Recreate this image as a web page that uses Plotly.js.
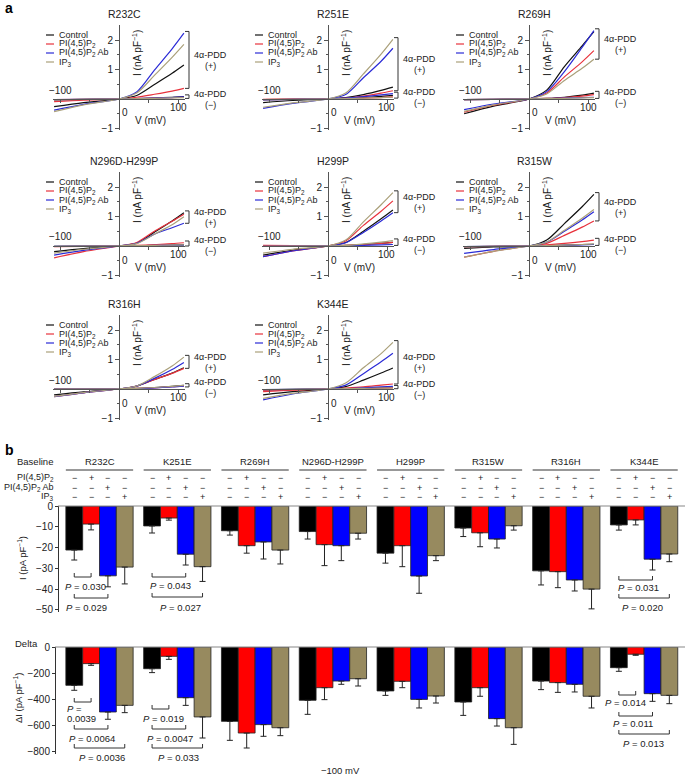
<!DOCTYPE html>
<html>
<head>
<meta charset="utf-8">
<script src="https://cdn.plot.ly/plotly-3.0.1.min.js"></script>
<style>
html, body { margin: 0; padding: 0; background: #fff; }
#chart { width: 685px; height: 779px; }
</style>
</head>
<body>
<div id="chart"></div>
<script>
var W = 685, H = 779;
var FONT = 'Liberation Sans, Arial, Helvetica, sans-serif';
var TXT = '#222';

// ---------- panel a : I-V ramps (nA/pF) ----------
var mutants = ['R232C', 'R251E', 'R269H', 'N296D-H299P', 'H299P', 'R315W', 'R316H', 'K344E'];
var volts = [-110, -60, 0, 30, 60, 90, 110];

// 4a-PDD (+)
var ctrlPlus = [
  [-0.26, -0.12, 0, 0.12, 0.49, 0.87, 1.15],
  [-0.12, -0.05, 0, 0.05, 0.15, 0.29, 0.40],
  [-0.50, -0.24, 0, 0.30, 1.10, 1.80, 2.28],
  [-0.19, -0.09, 0, 0.10, 0.47, 0.85, 1.13],
  [-0.31, -0.15, 0, 0.12, 0.50, 0.92, 1.22],
  [-0.08, -0.03, 0, 0.20, 0.76, 1.33, 1.75],
  [-0.20, -0.10, 0, 0.10, 0.32, 0.54, 0.72],
  [-0.20, -0.09, 0, 0.08, 0.30, 0.54, 0.71]
];
var pipPlus = [
  [-0.09, -0.04, 0, 0.06, 0.16, 0.27, 0.36],
  [-0.02, -0.01, 0, 0.03, 0.10, 0.20, 0.28],
  [-0.45, -0.21, 0, 0.20, 0.75, 1.26, 1.64],
  [-0.40, -0.19, 0, 0.12, 0.50, 0.84, 1.08],
  [-0.36, -0.17, 0, 0.17, 0.70, 1.18, 1.53],
  [-0.38, -0.18, 0, 0.09, 0.36, 0.64, 0.85],
  [-0.26, -0.13, 0, 0.10, 0.32, 0.53, 0.70],
  [-0.09, -0.04, 0, 0.03, 0.07, 0.13, 0.17]
];
var abPlus = [
  [-0.38, -0.18, 0, 0.24, 0.98, 1.70, 2.23],
  [-0.32, -0.15, 0, 0.15, 0.72, 1.28, 1.72],
  [-0.36, -0.17, 0, 0.25, 0.93, 1.75, 2.32],
  [-0.31, -0.15, 0, 0.09, 0.40, 0.62, 0.77],
  [-0.36, -0.17, 0, 0.11, 0.46, 0.85, 1.13],
  [-0.25, -0.12, 0, 0.13, 0.50, 0.88, 1.16],
  [-0.26, -0.13, 0, 0.10, 0.36, 0.66, 0.90],
  [-0.37, -0.17, 0, 0.13, 0.52, 0.92, 1.21]
];
var ip3Plus = [
  [-0.43, -0.20, 0, 0.20, 0.80, 1.41, 1.85],
  [-0.28, -0.13, 0, 0.20, 0.85, 1.52, 2.02],
  [-0.42, -0.20, 0, 0.17, 0.63, 1.04, 1.35],
  [-0.24, -0.11, 0, 0.08, 0.40, 0.72, 0.99],
  [-0.24, -0.11, 0, 0.20, 0.82, 1.40, 1.81],
  [-0.38, -0.18, 0, 0.13, 0.53, 0.94, 1.24],
  [-0.25, -0.12, 0, 0.10, 0.42, 0.78, 1.08],
  [-0.32, -0.15, 0, 0.20, 0.72, 1.20, 1.58]
];
// 4a-PDD (-)
var ctrlMinus = [
  [-0.03, -0.01, 0, 0.01, 0.03, 0.06, 0.08],
  [-0.02, -0.01, 0, 0.02, 0.05, 0.09, 0.12],
  [-0.02, -0.01, 0, 0.02, 0.06, 0.13, 0.20],
  [-0.01, 0, 0, 0.01, 0.02, 0.03, 0.04],
  [-0.01, 0, 0, 0.02, 0.05, 0.09, 0.12],
  [-0.02, -0.01, 0, 0.01, 0.03, 0.05, 0.06],
  [0, 0, 0, 0.02, 0.05, 0.09, 0.12],
  [-0.03, -0.01, 0, 0.01, 0.02, 0.04, 0.05]
];
var pipMinus = [
  [-0.02, -0.01, 0, 0.01, 0.03, 0.05, 0.06],
  [-0.01, 0, 0, 0.01, 0.03, 0.05, 0.07],
  [-0.02, -0.01, 0, 0.02, 0.05, 0.10, 0.15],
  [-0.02, -0.01, 0, 0.02, 0.05, 0.08, 0.11],
  [0.02, 0.01, 0, 0.02, 0.05, 0.09, 0.12],
  [-0.03, -0.01, 0, 0.04, 0.09, 0.15, 0.20],
  [0, 0, 0, 0.02, 0.04, 0.08, 0.10],
  [-0.05, -0.02, 0, 0.01, 0.02, 0.03, 0.04]
];
var abMinus = [
  [-0.02, -0.01, 0, 0.01, 0.03, 0.05, 0.07],
  [-0.03, -0.01, 0, 0.03, 0.08, 0.14, 0.18],
  [-0.02, -0.01, 0, 0.01, 0.03, 0.05, 0.06],
  [-0.01, 0, 0, 0.01, 0.02, 0.02, 0.03],
  [-0.01, 0, 0, 0.01, 0.02, 0.04, 0.05],
  [-0.02, -0.01, 0, 0.01, 0.02, 0.04, 0.05],
  [0, 0, 0, 0.01, 0.04, 0.07, 0.10],
  [-0.02, -0.01, 0, 0.01, 0.04, 0.07, 0.09]
];
var ip3Minus = [
  [-0.03, -0.01, 0, 0.01, 0.02, 0.04, 0.05],
  [-0.02, -0.01, 0, 0.01, 0.03, 0.05, 0.06],
  [-0.02, -0.01, 0, 0.01, 0.02, 0.04, 0.05],
  [-0.01, 0, 0, 0.01, 0.02, 0.03, 0.04],
  [-0.01, 0, 0, 0.02, 0.07, 0.13, 0.18],
  [-0.03, -0.01, 0, 0.01, 0.03, 0.05, 0.07],
  [0, 0, 0, 0.02, 0.05, 0.09, 0.12],
  [-0.02, -0.01, 0, 0.01, 0.02, 0.03, 0.04]
];

var treatNames = ['Control', 'PI(4,5)P<sub>2</sub>', 'PI(4,5)P<sub>2</sub> Ab', 'IP<sub>3</sub>'];
var lineColors = ['#111111', '#e8323c', '#2b2bd6', '#aaa07a'];

// ---------- panel b : -100 mV currents ----------
var groups = ['R232C', 'K251E', 'R269H', 'N296D-H299P', 'H299P', 'R315W', 'R316H', 'K344E'];
var baseCtrl = [-21.2, -9.6, -11.9, -12.3, -22.7, -10.6, -31.2, -9.1];
var basePip  = [-8.7, -5.8, -19.1, -18.6, -19.1, -12.9, -31.6, -6.7];
var baseAb   = [-33.6, -23.2, -17.3, -19.1, -33.7, -15.9, -35.6, -25.6];
var baseIp3  = [-29.4, -29.2, -21.2, -13.1, -23.9, -9.5, -40.0, -23.1];
var baseCtrlErr = [4.8, 3.4, 2.1, 3.6, 4.8, 4.1, 6.8, 2.5];
var basePipErr  = [2.8, 1.0, 3.6, 10.1, 10.1, 6.7, 7.7, 2.4];
var baseAbErr   = [5.3, 5.2, 8.2, 7.2, 8.3, 4.3, 5.3, 5.2];
var baseIp3Err  = [8.1, 7.1, 6.7, 2.8, 2.4, 2.1, 9.5, 3.7];
var deltaCtrl = [-295, -167, -572, -410, -338, -423, -262, -159];
var deltaPip  = [-128, -72, -662, -313, -264, -313, -274, -56];
var deltaAb   = [-500, -390, -597, -262, -403, -551, -287, -359];
var deltaIp3  = [-449, -538, -621, -244, -377, -621, -379, -372];
var deltaCtrlErr = [38, 30, 146, 108, 34, 103, 66, 28];
var deltaPipErr  = [13, 23, 115, 92, 49, 66, 75, 8];
var deltaAbErr   = [56, 59, 90, 25, 66, 57, 59, 59];
var deltaIp3Err  = [56, 162, 61, 56, 54, 128, 90, 64];
var barColors = ['#000000', '#ff0000', '#0000ff', '#978a5f'];
var signRows = [
  ['\u2212', '+', '\u2212', '\u2212'],
  ['\u2212', '\u2212', '+', '\u2212'],
  ['\u2212', '\u2212', '\u2212', '+']
];

// P values: group, bar a, bar b
var sigBase = [
  {g: 0, a: 0, b: 1, p: '0.030'}, {g: 0, a: 0, b: 2, p: '0.029'},
  {g: 1, a: 0, b: 2, p: '0.043'}, {g: 1, a: 0, b: 3, p: '0.027'},
  {g: 7, a: 0, b: 2, p: '0.031'}, {g: 7, a: 0, b: 3, p: '0.020'}
];
var sigDelta = [
  {g: 0, a: 0, b: 1, p: '0.0039'}, {g: 0, a: 0, b: 2, p: '0.0064'}, {g: 0, a: 0, b: 3, p: '0.0036'},
  {g: 1, a: 0, b: 1, p: '0.019'}, {g: 1, a: 0, b: 2, p: '0.0047'}, {g: 1, a: 0, b: 3, p: '0.033'},
  {g: 7, a: 0, b: 1, p: '0.014'}, {g: 7, a: 0, b: 2, p: '0.011'}, {g: 7, a: 0, b: 3, p: '0.013'}
];

// ---------- helpers (pixel -> paper) ----------
function px(x) { return x / W; }
function py(y) { return 1 - y / H; }

var annotations = [];
var shapes = [];
function label(x, y, text, opts) {
  var a = {x: px(x), y: py(y), xref: 'paper', yref: 'paper', text: text, showarrow: false,
    xanchor: 'center', yanchor: 'middle', font: {family: FONT, size: 9.5, color: TXT}};
  for (var k in opts) a[k] = opts[k];
  annotations.push(a);
}
function small(size) { return {family: FONT, size: size, color: TXT}; }
function seg(x0, y0, x1, y1, color, width) {
  shapes.push({type: 'line', xref: 'paper', yref: 'paper', x0: px(x0), y0: py(y0), x1: px(x1), y1: py(y1),
    line: {color: color || '#333', width: width || 1}});
}
function bracket(xa, xb, y, tick) {
  // horizontal line with end ticks pointing up
  shapes.push({type: 'path', xref: 'paper', yref: 'paper',
    path: 'M' + px(xa) + ',' + py(y - tick) + ' L' + px(xa) + ',' + py(y) + ' L' + px(xb) + ',' + py(y) + ' L' + px(xb) + ',' + py(y - tick),
    line: {color: '#333', width: 1}});
}

var data = [];
var layout = {
  width: W, height: H,
  margin: {l: 0, r: 0, t: 0, b: 0},
  paper_bgcolor: '#fff', plot_bgcolor: 'rgba(0,0,0,0)',
  showlegend: false,
  font: {family: FONT, size: 10, color: TXT},
  barmode: 'group', bargap: 0.135, bargroupgap: 0
};

// ---------- panel a layout ----------
var colX = [119, 328, 529];
var rowY = [99, 246, 389];
var mvPx = 0.59, nAPx = 29.5;
var plusSets = [ctrlPlus, pipPlus, abPlus, ip3Plus];
var minusSets = [ctrlMinus, pipMinus, abMinus, ip3Minus];

mutants.forEach(function (name, k) {
  var cx = colX[k % 3], zy = rowY[Math.floor(k / 3)];
  var id = k === 0 ? '' : String(k + 1);
  layout['xaxis' + id] = {
    domain: [px(cx - 112 * mvPx), px(cx + 112 * mvPx)], range: [-112, 112],
    anchor: 'free', position: py(zy),
    showline: true, linecolor: '#555', linewidth: 1,
    ticks: 'outside', ticklen: 3, tickcolor: '#555', tickvals: [-100, -50, 50, 100],
    showticklabels: false, showgrid: false, zeroline: false
  };
  layout['yaxis' + id] = {
    domain: [py(zy + 1.05 * nAPx), py(zy - 2.5 * nAPx)], range: [-1.05, 2.5],
    anchor: 'free', position: px(cx),
    showline: true, linecolor: '#555', linewidth: 1,
    ticks: 'outside', ticklen: 4, tickcolor: '#555',
    tickvals: [-1, 1, 2], ticktext: ['\u22121', '1', '2'],
    tickfont: small(10),
    minor: {tickvals: [-0.5, 0.5, 1.5], ticks: 'outside', ticklen: 2, tickcolor: '#555'},
    showgrid: false, zeroline: false
  };

  for (var t = 0; t < 4; t++) {
    [minusSets[t][k], plusSets[t][k]].forEach(function (ys) {
      data.push({x: volts, y: ys, xaxis: 'x' + id, yaxis: 'y' + id, mode: 'lines',
        line: {color: lineColors[t], width: 1.2, shape: 'spline', smoothing: 0.8},
        hoverinfo: 'skip'});
    });
  }

  function vy(v) { return zy - v * nAPx; }

  label(cx + 5, zy - 85, name, {font: small(10.5)});
  label(cx - 59, zy - 9, '\u2212100', {font: small(10)});
  label(cx + 6, zy + 14, '0', {font: small(10)});
  label(cx + 59, zy + 8, '100', {font: small(10)});
  label(cx + 31, zy + 21, 'V (mV)', {font: small(10)});
  label(cx + 18, zy - 46, 'I (nA pF<sup>\u22121</sup>)', {textangle: -90, font: small(10)});

  for (var i = 0; i < 4; i++) {
    var ly = zy - 64 + i * 9;
    seg(cx - 73, ly, cx - 65, ly, lineColors[i], 1.2);
    label(cx - 62, ly, treatNames[i], {xanchor: 'left', font: small(9)});
  }

  // 4a-PDD brackets from the curve end values
  var plusEnds = plusSets.map(function (s) { return s[k][volts.length - 1]; });
  var minusEnds = minusSets.map(function (s) { return s[k][volts.length - 1]; });
  var pTop = Math.max.apply(null, plusEnds) + 0.06;
  var pBot = Math.min.apply(null, plusEnds);
  var mTop = Math.min(Math.max.apply(null, minusEnds) + 0.06, pBot - 0.05);
  var mBot = Math.min.apply(null, minusEnds) - 0.03;
  var bx = cx + 70;
  shapes.push({type: 'path', xref: 'paper', yref: 'paper',
    path: 'M' + px(bx - 4) + ',' + py(vy(pTop)) + ' L' + px(bx) + ',' + py(vy(pTop)) + ' L' + px(bx) + ',' + py(vy(pBot)) + ' L' + px(bx - 4) + ',' + py(vy(pBot)),
    line: {color: '#333', width: 1}});
  shapes.push({type: 'path', xref: 'paper', yref: 'paper',
    path: 'M' + px(bx - 4) + ',' + py(vy(mTop)) + ' L' + px(bx) + ',' + py(vy(mTop)) + ' L' + px(bx) + ',' + py(vy(mBot)) + ' L' + px(bx - 4) + ',' + py(vy(mBot)),
    line: {color: '#333', width: 1}});
  var pMid = vy((pTop + pBot) / 2), mMid = vy((mTop + mBot) / 2);
  label(cx + 91, pMid - 5, '4\u03b1-PDD', {font: small(9)});
  label(cx + 91, pMid + 6, '(+)', {font: small(9)});
  label(cx + 91, mMid - 3, '4\u03b1-PDD', {font: small(9)});
  label(cx + 91, mMid + 8, '(\u2212)', {font: small(9)});
});

// ---------- panel b layout ----------
var bL = 60.6, bR = 683;
var unit = (bR - bL) / groups.length;
var barW = unit * (1 - layout.bargap) / 4;
function barC(g, j) { return bL + (g + 0.5) * unit + (j - 1.5) * barW; }

var zTop = 506, sTop = 2.078, zBot = 647, sBot = 0.13;
layout.xaxis9 = {domain: [px(bL), px(bR)], range: [-0.5, 7.5], type: 'category', anchor: 'y9', visible: false};
layout.yaxis9 = {domain: [py(zTop + 51 * sTop), py(zTop)], range: [-51, 0], anchor: 'free', position: px(58),
  showline: true, linecolor: '#333', linewidth: 1, ticks: 'outside', ticklen: 3, tickcolor: '#333',
  tickvals: [0, -10, -20, -30, -40, -50], ticktext: ['0', '\u221210', '\u221220', '\u221230', '\u221240', '\u221250'],
  tickfont: small(10), showgrid: false, zeroline: false};
layout.xaxis10 = {domain: [px(bL), px(bR)], range: [-0.5, 7.5], type: 'category', anchor: 'y10', visible: false};
layout.yaxis10 = {domain: [py(zBot + 823 * sBot), py(zBot)], range: [-823, 0], anchor: 'free', position: px(55),
  showline: true, linecolor: '#333', linewidth: 1, ticks: 'outside', ticklen: 3, tickcolor: '#333',
  tickvals: [0, -200, -400, -600, -800], ticktext: ['0', '\u2212200', '\u2212400', '\u2212600', '\u2212800'],
  tickfont: small(10), showgrid: false, zeroline: false};

var baseSets = [[baseCtrl, baseCtrlErr], [basePip, basePipErr], [baseAb, baseAbErr], [baseIp3, baseIp3Err]];
var deltaSets = [[deltaCtrl, deltaCtrlErr], [deltaPip, deltaPipErr], [deltaAb, deltaAbErr], [deltaIp3, deltaIp3Err]];
function addBars(sets, ax) {
  sets.forEach(function (s, j) {
    data.push({type: 'bar', x: groups, y: s[0], xaxis: 'x' + ax, yaxis: 'y' + ax,
      marker: {color: barColors[j], line: {color: '#222', width: 0.8}},
      error_y: {type: 'data', symmetric: false, array: s[0].map(function () { return 0; }), arrayminus: s[1],
        color: '#222', thickness: 1, width: 3},
      hoverinfo: 'skip'});
  });
}
addBars(baseSets, 9);
addBars(deltaSets, 10);

// zero lines
seg(58, zTop, 685, zTop, '#888', 1.2);
seg(55, zBot, 685, zBot, '#888', 1.2);

// header table
label(35, 461, 'Baseline');
groups.forEach(function (gname, g) {
  var x0 = barC(g, 0) - barW / 2, x1 = barC(g, 3) + barW / 2;
  label((x0 + x1) / 2, 461, gname);
  seg(x0, 470, x1, 470, '#333', 1);
  signRows.forEach(function (row, r) {
    row.forEach(function (s, j) { label(barC(g, j), 478 + r * 9.5, s, {font: small(9)}); });
  });
});
label(56, 477, 'PI(4,5)P<sub>2</sub>', {xanchor: 'right', font: small(9)});
label(56, 487, 'PI(4,5)P<sub>2</sub> Ab', {xanchor: 'right', font: small(9)});
label(56, 496.5, 'IP<sub>3</sub>', {xanchor: 'right', font: small(9)});

label(22, 558, 'I (pA pF<sup>\u22121</sup>)', {textangle: -90});
label(40, 643, 'Delta', {xanchor: 'right'});
label(18, 698, '\u0394I (pA pF<sup>\u22121</sup>)', {textangle: -90});
label(340, 770, '\u2212100 mV');

// significance brackets
var baseLines = [577, 598, 577, 597, 580, 598];
var baseText = [[85, 586], [87, 607], [170, 585], [180, 607], [638, 587], [642, 607]];
sigBase.forEach(function (s, i) {
  bracket(barC(s.g, s.a), barC(s.g, s.b), baseLines[i], 4);
  label(baseText[i][0], baseText[i][1], '<i>P</i> = ' + s.p);
});
var deltaLines = [702, 729, 748, 709, 729, 748, 695, 716, 734];
var deltaText = [[65, 708], [92, 738], [102, 757], [163, 718], [170, 738], [178, 757], [625, 702], [633, 723], [643, 743]];
sigDelta.forEach(function (s, i) {
  bracket(barC(s.g, s.a), barC(s.g, s.b), deltaLines[i], 4);
  if (i === 0) {
    label(deltaText[i][0], deltaText[i][1], '<i>P</i> =', {xanchor: 'left'});
    label(deltaText[i][0], deltaText[i][1] + 10, s.p, {xanchor: 'left'});
  } else {
    label(deltaText[i][0], deltaText[i][1], '<i>P</i> = ' + s.p);
  }
});

// panel letters
label(3, 8, '<b>a</b>', {xanchor: 'left', font: {family: FONT, size: 14, color: '#000'}});
label(3, 450, '<b>b</b>', {xanchor: 'left', font: {family: FONT, size: 14, color: '#000'}});

layout.annotations = annotations;
layout.shapes = shapes;

Plotly.newPlot('chart', data, layout, {staticPlot: true, displayModeBar: false});
</script>
</body>
</html>
